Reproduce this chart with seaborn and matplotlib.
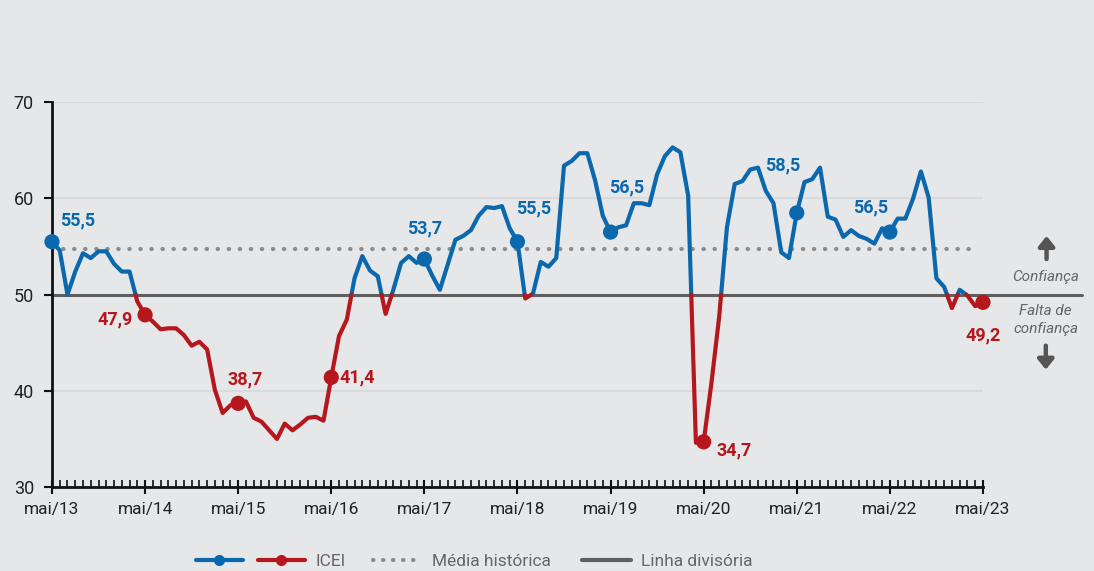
import numpy as np
import pandas as pd
import matplotlib
matplotlib.use("Agg")
import matplotlib.pyplot as plt
import seaborn as sns
from matplotlib.lines import Line2D
from matplotlib.legend_handler import HandlerTuple

# ICEI mensal, mai/13 a mai/23
icei = [
    55.5, 54.6, 50.0, 52.4, 54.3, 53.8, 54.5, 54.5, 53.2, 52.4, 52.4, 49.3,
    47.9, 47.2, 46.4, 46.5, 46.5, 45.8, 44.7, 45.1, 44.3, 40.1, 37.7, 38.5,
    38.7, 38.9, 37.2, 36.8, 35.9, 35.0, 36.6, 35.9, 36.5, 37.2, 37.3, 36.9,
    41.4, 45.7, 47.4, 51.7, 54.0, 52.5, 51.9, 48.0, 50.5, 53.3, 54.0, 53.3,
    53.7, 52.0, 50.5, 53.1, 55.7, 56.1, 56.7, 58.2, 59.1, 59.0, 59.2, 56.9,
    55.5, 49.6, 50.1, 53.4, 52.9, 53.8, 63.4, 63.9, 64.7, 64.7, 61.9, 58.2,
    56.5, 57.0, 57.2, 59.5, 59.5, 59.3, 62.5, 64.4, 65.3, 64.8, 60.3, 34.6,
    34.7, 40.8, 47.7, 57.0, 61.5, 61.8, 63.0, 63.2, 60.8, 59.5, 54.4, 53.8,
    58.5, 61.7, 62.0, 63.2, 58.1, 57.8, 56.0, 56.7, 56.1, 55.8, 55.3, 56.9,
    56.5, 57.9, 57.9, 60.0, 62.8, 60.1, 51.7, 50.8, 48.6, 50.5, 49.9, 48.8,
    49.2,
]
x_labels = ["mai/13", "mai/14", "mai/15", "mai/16", "mai/17", "mai/18",
            "mai/19", "mai/20", "mai/21", "mai/22", "mai/23"]
media_historica = 54.7
linha_divisoria = 50

BLUE = "#0b68ad"
RED = "#b5171c"
BG = "#e6e7e9"

# quebra a serie em trechos acima/abaixo de 50
rows = []
seg = 0
for i, v in enumerate(icei):
    if i > 0:
        prev = icei[i - 1]
        if (prev - 50) * (v - 50) < 0:
            xc = i - 1 + (50 - prev) / (v - prev)
            rows.append((xc, 50.0, seg, prev >= 50))
            seg += 1
            rows.append((xc, 50.0, seg, v >= 50))
    rows.append((i, v, seg, v >= 50))
df = pd.DataFrame(rows, columns=["mes", "valor", "trecho", "acima"])
df["cor"] = np.where(df["acima"], "acima", "abaixo")

sns.set_theme(style="white")
plt.rcParams["font.family"] = ["Roboto", "DejaVu Sans"]

fig = plt.figure(figsize=(10.94, 5.71), dpi=100, facecolor=BG)
ax = fig.add_axes([0.0475, 0.147, 0.851, 0.674])
ax.set_facecolor(BG)

for yv in [40, 60, 70]:
    ax.axhline(yv, color="#d9dadc", lw=1.5, zorder=0)
ax.plot([0, 119.2], [media_historica] * 2, color="#8c8c8c", lw=3,
        ls=(0, (0.1, 2.55)), dash_capstyle="round", zorder=1)
ax.plot([0, 132.8], [linha_divisoria] * 2, color="#5f5f5f", lw=2.2,
        zorder=2, clip_on=False)

sns.lineplot(data=df, x="mes", y="valor", hue="cor", units="trecho",
             estimator=None, sort=False, palette={"acima": BLUE, "abaixo": RED},
             lw=3.0, legend=False, ax=ax, zorder=3)

maio = list(range(0, len(icei), 12))
pts = pd.DataFrame({"mes": maio, "valor": [icei[m] for m in maio]})
pts["cor"] = np.where(pts["valor"] >= 50, "acima", "abaixo")
sns.scatterplot(data=pts, x="mes", y="valor", hue="cor",
                palette={"acima": BLUE, "abaixo": RED}, s=120,
                edgecolor="none", legend=False, ax=ax, zorder=4, clip_on=False)

# rotulos dos pontos de maio: (dx, dy em pontos, alinhamento)
label_pos = [(6, 15, "left"), (-9, -3, "right"), (5, 17, "center"),
             (6, 0, "left"), (0, 22, "center"), (-1, 24, "left"),
             (-1, 32, "left"), (9, -6, "left"), (-10, 34, "center"),
             (-14, 18, "center"), (0, -24, "center")]
for m, (dx, dy, ha) in zip(maio, label_pos):
    v = icei[m]
    ax.annotate(f"{v:.1f}".replace(".", ","), (m, v), xytext=(dx, dy),
                textcoords="offset points", ha=ha, va="center",
                color=BLUE if v >= 50 else RED, fontsize=13,
                fontweight="bold", zorder=5)

ax.set_xlim(0, 120)
ax.set_ylim(30, 70)
ax.set_yticks([30, 40, 50, 60, 70])
ax.set_xticks(maio)
ax.set_xticklabels(x_labels)
ax.set_xticks(range(0, 121), minor=True)
ax.tick_params(axis="y", direction="out", length=6, width=1.5, color="#111111",
               labelsize=13, labelcolor="#222222", pad=7, left=True)
ax.tick_params(axis="x", which="major", direction="inout", length=10, width=1.5,
               color="#111111", labelsize=12.5, labelcolor="#222222", pad=6,
               bottom=True)
ax.tick_params(axis="x", which="minor", direction="in", length=5, width=1.2,
               color="#111111", bottom=True)
ax.set_xlabel("")
ax.set_ylabel("")
for s in ["top", "right"]:
    ax.spines[s].set_visible(False)
for s in ["left", "bottom"]:
    ax.spines[s].set_color("#111111")
    ax.spines[s].set_linewidth(2)

# textos a direita
seta = dict(arrowstyle="-|>,head_width=0.4,head_length=0.5", color="#555555",
            lw=3.2, shrinkA=0, shrinkB=0)
ax.annotate("", xy=(128.2, 56.1), xytext=(128.2, 53.7), arrowprops=seta,
            annotation_clip=False)
ax.text(128.1, 51.8, "Confiança", ha="center", va="center", fontsize=11,
        style="italic", color="#666666", clip_on=False)
ax.text(128.1, 48.3, "Falta de", ha="center", va="center", fontsize=11,
        style="italic", color="#666666", clip_on=False)
ax.text(128.1, 46.4, "confiança", ha="center", va="center", fontsize=11,
        style="italic", color="#666666", clip_on=False)
ax.annotate("", xy=(128.1, 42.2), xytext=(128.1, 44.7), arrowprops=seta,
            annotation_clip=False)

# legenda
h_blue = Line2D([], [], color=BLUE, lw=3, marker="o", ms=7)
h_red = Line2D([], [], color=RED, lw=3, marker="o", ms=7)
h_med = Line2D([], [], color="#8c8c8c", lw=3, ls=(0, (0.1, 2.3)),
               dash_capstyle="round")
h_div = Line2D([], [], color="#5f5f5f", lw=3)
fig.legend([(h_blue, h_red)], ["ICEI"],
           handler_map={tuple: HandlerTuple(ndivide=None, pad=0.86)},
           loc="center left", bbox_to_anchor=(0.179, 0.017), frameon=False,
           fontsize=12.5, labelcolor="#666666", handlelength=6.27,
           handletextpad=0.6, borderpad=0, borderaxespad=0)
fig.legend([h_med, h_div], ["Média histórica", "Linha divisória"],
           loc="center left", bbox_to_anchor=(0.341, 0.017), ncol=2,
           frameon=False, fontsize=12.5, labelcolor="#666666",
           handlelength=2.8, columnspacing=1.8, handletextpad=0.6,
           borderpad=0, borderaxespad=0)

fig.savefig("out.png", dpi=100, facecolor=BG)
